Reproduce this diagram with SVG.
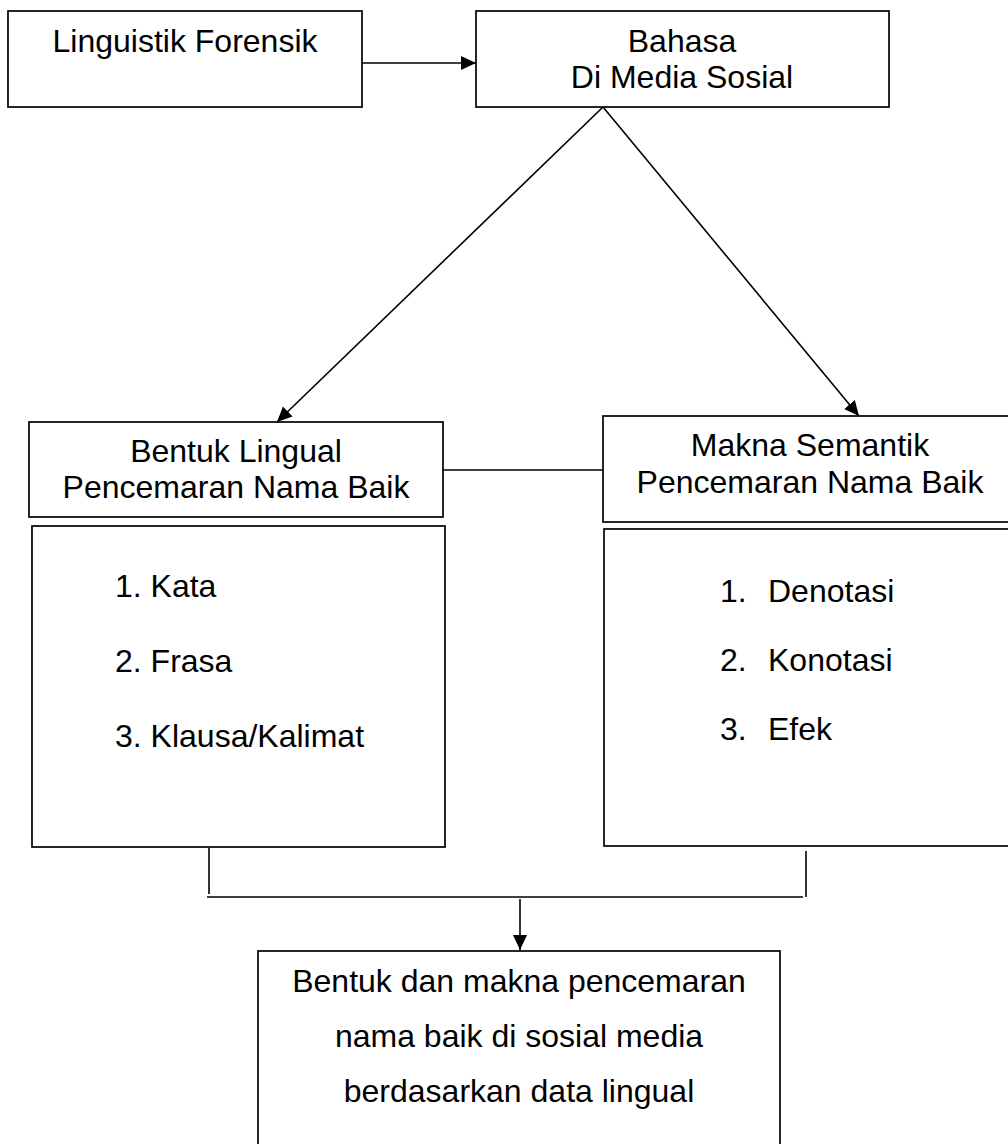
<svg xmlns="http://www.w3.org/2000/svg" width="1008" height="1144" viewBox="0 0 1008 1144">
<style>
.box{fill:#fff;stroke:#000;stroke-width:1.7}
.t{font-family:"Liberation Sans",Arial,sans-serif;font-size:32px;fill:#000}
.c{text-anchor:middle}
.ln{stroke:#000;stroke-width:1.6;fill:none}
</style>
<defs>
<marker id="ah2" markerWidth="16" markerHeight="16" refX="15" refY="7" orient="auto" markerUnits="userSpaceOnUse" viewBox="0 0 16 14">
<path d="M0,0 L15,7 L0,14 z" fill="#000"/>
</marker>
</defs>
<rect width="1008" height="1144" fill="#fff"/>
<g id="connectors">
<line class="ln" x1="362" y1="63" x2="476" y2="63" stroke-width="2.5" marker-end="url(#ah2)"/>
<line class="ln" x1="603" y1="107" x2="277" y2="422" marker-end="url(#ah2)"/>
<line class="ln" x1="603" y1="107" x2="859" y2="416" marker-end="url(#ah2)"/>
<line class="ln" x1="443" y1="470" x2="603" y2="470"/>
<line class="ln" x1="209" y1="848" x2="209" y2="894"/>
<line class="ln" x1="806" y1="851" x2="806" y2="897"/>
<line class="ln" x1="207" y1="897" x2="803" y2="897"/>
<line class="ln" x1="520" y1="899" x2="520" y2="950" marker-end="url(#ah2)"/>
</g>
<g id="node-linguistik">
<rect class="box" x="8" y="11" width="354" height="96"/>
<text class="t c" x="185" y="52">Linguistik Forensik</text>
</g>
<g id="node-bahasa">
<rect class="box" x="476" y="11" width="413" height="96"/>
<text class="t c" x="682" y="52">Bahasa</text>
<text class="t c" x="682" y="88">Di Media Sosial</text>
</g>
<g id="node-bentuk">
<rect class="box" x="29" y="422" width="414" height="95"/>
<text class="t c" x="236" y="462">Bentuk Lingual</text>
<text class="t c" x="236" y="498">Pencemaran Nama Baik</text>
</g>
<g id="node-bentuk-list">
<rect class="box" x="32" y="526" width="413" height="321"/>
<text class="t" x="115" y="597">1. Kata</text>
<text class="t" x="115" y="672">2. Frasa</text>
<text class="t" x="115" y="747">3. Klausa/Kalimat</text>
</g>
<g id="node-makna">
<rect class="box" x="603" y="416" width="414" height="106"/>
<text class="t c" x="810" y="456">Makna Semantik</text>
<text class="t c" x="810" y="493">Pencemaran Nama Baik</text>
</g>
<g id="node-makna-list">
<rect class="box" x="604" y="529" width="414" height="317"/>
<text class="t" x="720" y="602">1.</text>
<text class="t" x="768" y="602">Denotasi</text>
<text class="t" x="720" y="671">2.</text>
<text class="t" x="768" y="671">Konotasi</text>
<text class="t" x="720" y="740">3.</text>
<text class="t" x="768" y="740">Efek</text>
</g>
<g id="node-hasil">
<rect class="box" x="258" y="951" width="522" height="200"/>
<text class="t c" x="519" y="992">Bentuk dan makna pencemaran</text>
<text class="t c" x="519" y="1047">nama baik di sosial media</text>
<text class="t c" x="519" y="1102">berdasarkan data lingual</text>
</g>
</svg>
